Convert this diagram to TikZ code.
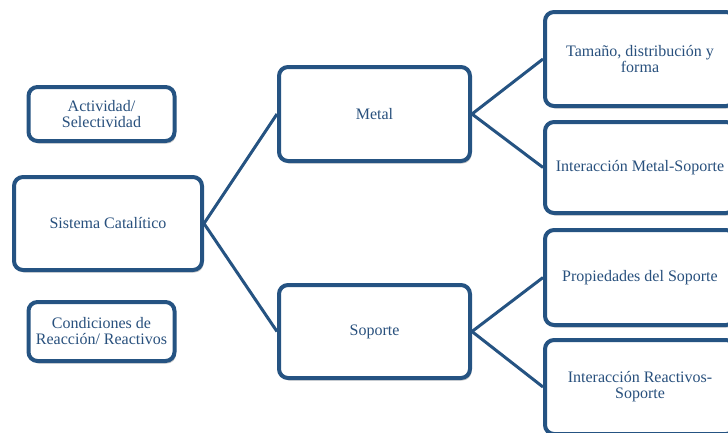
\documentclass[tikz,border=0pt]{standalone}
\usepackage{fontspec}
\setmainfont{Liberation Serif}
\usetikzlibrary{shadows}
\definecolor{boxblue}{RGB}{37,83,130}
\definecolor{txtblue}{RGB}{40,80,125}
\begin{document}
\begin{tikzpicture}[x=1pt,y=-1pt,
  box/.style={draw=boxblue, line width=4pt, rounded corners=9pt, fill=white,
    align=center, text=txtblue, inner sep=2pt,
    font=\fontsize{16pt}{16pt}\selectfont,
    drop shadow={shadow xshift=1.5pt, shadow yshift=-2.5pt, opacity=0.35, fill=black!60}},
  link/.style={draw=boxblue, line width=3pt}]
\clip (0,0) rectangle (728,432);
\fill[white] (0,0) rectangle (728,432);
\node[box, minimum width=146pt, minimum height=54pt] (act) at (101.5,114) {Actividad/\\Selectividad};
\node[box, minimum width=188pt, minimum height=93pt] (sis) at (108,223.5) {Sistema Catalítico};
\node[box, minimum width=146pt, minimum height=59pt] (con) at (101.5,331.5) {Condiciones de\\Reacción/ Reactivos};
\node[box, minimum width=191pt, minimum height=94pt] (met) at (374.5,114) {Metal};
\node[box, minimum width=191pt, minimum height=93pt] (sop) at (374.5,331.5) {Soporte};
\node[box, minimum width=190pt, minimum height=94pt] (tam) at (640,59) {Tamaño, distribución y\\forma};
\node[box, minimum width=190pt, minimum height=91pt] (ims) at (640,167.5) {Interacción Metal-Soporte};
\node[box, minimum width=190pt, minimum height=95pt] (pro) at (640,277.5) {Propiedades del Soporte};
\node[box, minimum width=190pt, minimum height=94pt] (irs) at (640,387) {Interacción Reactivos-\\Soporte};
\draw[link] (sis.east) -- (met.west);
\draw[link] (sis.east) -- (sop.west);
\draw[link] (met.east) -- (tam.west);
\draw[link] (met.east) -- (ims.west);
\draw[link] (sop.east) -- (pro.west);
\draw[link] (sop.east) -- (irs.west);
\end{tikzpicture}
\end{document}
